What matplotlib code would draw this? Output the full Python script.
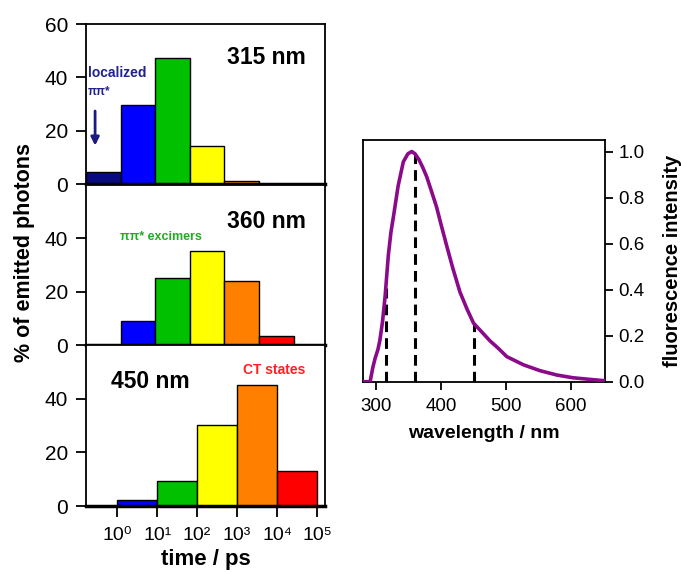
import numpy as np
import matplotlib
matplotlib.use("Agg")
import matplotlib.pyplot as plt

plt.rcParams['font.family'] = ['Liberation Sans', 'DejaVu Sans']

# ---- data ----
bin_colors = ['#0a0a80', '#0000ff', '#00c000', '#ffff00', '#ff8000', '#ff0000']
top_vals = [4.6, 29.6, 47.3, 14.5, 1.4, 0.0]        # 315 nm
mid_vals = [0.0, 9.0, 25.1, 35.0, 24.1, 3.4]        # 360 nm
bot_edges = [1e0, 1e1, 1e2, 1e3, 1e4, 1e5]          # 450 nm bins (ps)
bot_vals = [2.4, 9.4, 30.1, 45.1, 13.0]
bot_colors = ['#0000ff', '#00c000', '#ffff00', '#ff8000', '#ff0000']
xtick_vals = [1e0, 1e1, 1e2, 1e3, 1e4, 1e5]
xtick_labels = ['10⁰', '10¹', '10²', '10³', '10⁴', '10⁵']

wl = [280, 291, 295, 298.5, 303, 306, 310, 314, 319, 323, 327, 334, 342, 349,
      355, 360, 366, 372, 378, 385, 393, 400, 409, 418, 429, 440, 450, 462,
      475, 488, 501, 514, 527, 552, 578, 603, 629, 652]
fl = [0.0, 0.0, 0.06, 0.10, 0.14, 0.18, 0.26, 0.37, 0.55, 0.65, 0.72, 0.85,
      0.955, 0.99, 1.0, 0.99, 0.965, 0.93, 0.89, 0.83, 0.76, 0.683, 0.587,
      0.494, 0.39, 0.315, 0.254, 0.218, 0.178, 0.145, 0.109, 0.091, 0.073,
      0.048, 0.029, 0.017, 0.010, 0.004]
det_wl = [315, 360, 450]

fig = plt.figure(figsize=(6.81, 5.72), dpi=100)
W, H = 681, 572

def ax_px(x0, y0, x1, y1):
    return fig.add_axes([x0 / W, 1 - y1 / H, (x1 - x0) / W, (y1 - y0) / H])

ax_top = ax_px(86, 24, 325, 184.5)
ax_mid = ax_px(86, 184.5, 325, 345.2)
ax_bot = ax_px(86, 345.2, 325, 506)

fs_tick = 15

def style_panel(ax, yticks):
    ax.set_ylim(0, 60)
    ax.set_yticks(yticks)
    ax.tick_params(axis='y', direction='out', length=7, width=1.3, labelsize=fs_tick, pad=6)
    for s in ['left', 'right', 'top']:
        ax.spines[s].set_linewidth(1.3)
    ax.spines['bottom'].set_linewidth(2.5)

for ax, vals in [(ax_top, top_vals), (ax_mid, mid_vals)]:
    idx = [i for i, v in enumerate(vals) if v > 0]
    ax.bar([i for i in idx], [vals[i] for i in idx], width=1.0, align='edge',
           color=[bin_colors[i] for i in idx], edgecolor='black', linewidth=1.0, zorder=2)
    ax.set_xlim(0, 239 / 34.6)
    ax.set_xticks([])

style_panel(ax_top, [0, 20, 40, 60])
style_panel(ax_mid, [0, 20, 40])
style_panel(ax_bot, [0, 20, 40])

ax_bot.set_xscale('log')
lefts = bot_edges[:-1]
widths = [b - a for a, b in zip(bot_edges[:-1], bot_edges[1:])]
ax_bot.bar(lefts, bot_vals, width=widths, align='edge', color=bot_colors,
           edgecolor='black', linewidth=1.0, zorder=2)
ax_bot.set_xlim(10 ** -0.78, 10 ** 5.2)
ax_bot.set_xticks(xtick_vals)
ax_bot.set_xticklabels(xtick_labels)
ax_bot.minorticks_off()
ax_bot.tick_params(axis='x', direction='out', length=8, width=1.3, labelsize=14, pad=7)
ax_bot.set_xlabel('time / ps', fontsize=16, fontweight='bold', labelpad=4)

fig.text(25 / W, 1 - 252 / H, '% of emitted photons', rotation=90, ha='center', va='center',
         fontsize=15.5, fontweight='bold')

# annotations
ax_top.text(0.753, 0.794, '315 nm', transform=ax_top.transAxes, ha='center', va='center',
            fontsize=16.5, fontweight='bold')
ax_top.text(0.008, 0.694, 'localized', transform=ax_top.transAxes, ha='left', va='center',
            fontsize=10, fontweight='bold', color='#22228c')
ax_top.text(0.008, 0.575, 'ππ*', transform=ax_top.transAxes, ha='left', va='center',
            fontsize=8.5, fontweight='bold', color='#22228c')
ax_top.annotate('', xy=(0.038, 0.225), xytext=(0.038, 0.475), xycoords='axes fraction',
                textcoords='axes fraction',
                arrowprops=dict(arrowstyle='-|>', color='#1a1a80', lw=2, mutation_scale=12))
ax_mid.text(0.753, 0.767, '360 nm', transform=ax_mid.transAxes, ha='center', va='center',
            fontsize=16.5, fontweight='bold')
ax_mid.text(0.142, 0.673, 'ππ* excimers', transform=ax_mid.transAxes, ha='left', va='center',
            fontsize=9, fontweight='bold', color='#22aa22')
ax_bot.text(0.268, 0.777, '450 nm', transform=ax_bot.transAxes, ha='center', va='center',
            fontsize=16.5, fontweight='bold')
ax_bot.text(0.787, 0.846, 'CT states', transform=ax_bot.transAxes, ha='center', va='center',
            fontsize=10, fontweight='bold', color='#ff2020')

# ---- right panel ----
axr = ax_px(363.3, 140, 605, 381.7)
axr.plot(wl, fl, color='#8a0a8a', lw=2.6, zorder=3)
det_h = np.interp(det_wl, wl, fl)
axr.vlines(det_wl, 0, det_h, colors='black', linestyles=(0, (3.5, 2)), lw=2.2, zorder=2)
axr.set_xlim(280.5, 652)
axr.set_ylim(0, 1.05)
axr.set_xticks([300, 400, 500, 600])
axr.set_yticks([0.0, 0.2, 0.4, 0.6, 0.8, 1.0])
axr.set_yticklabels(['0.0', '0.2', '0.4', '0.6', '0.8', '1.0'])
axr.yaxis.tick_right()
axr.yaxis.set_label_position('right')
axr.tick_params(axis='both', direction='out', length=6, width=1.3, labelsize=13.5)
axr.tick_params(axis='x', pad=6)
for s in axr.spines.values():
    s.set_linewidth(1.3)
axr.set_xlabel('wavelength / nm', fontsize=14, fontweight='bold', labelpad=7)
axr.set_ylabel('fluorescence intensity', fontsize=14.5, fontweight='bold', labelpad=13)

fig.savefig('out.png', dpi=100)
